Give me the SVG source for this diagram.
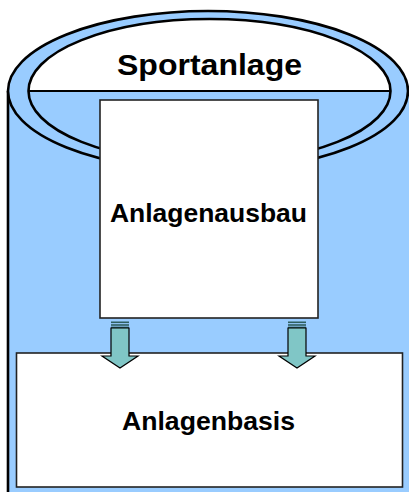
<svg xmlns="http://www.w3.org/2000/svg" width="409" height="492" viewBox="0 0 409 492">
<style>
.lbl{font-family:"Liberation Sans",Arial,sans-serif;font-weight:bold;fill:#000;text-anchor:middle}
.box{fill:#fff;stroke:#222;stroke-width:1.6}
.arr{fill:#80C6C6;stroke:#000;stroke-width:1.2;stroke-linejoin:miter}
.stripe{fill:#2F5F5F}
</style>
<rect x="0" y="0" width="409" height="492" fill="#fff"/>
<g id="sportanlage">
<rect x="8" y="91" width="420" height="410" fill="#99CCFF"/>
<line x1="8" y1="91" x2="8" y2="492" stroke="#000" stroke-width="2.6"/>
<ellipse cx="208" cy="91" rx="200" ry="80" fill="#99CCFF" stroke="#000" stroke-width="2.6"/>
<path d="M28.5 91 A181 72 0 0 1 390.5 91 Z" fill="#fff"/>
<ellipse cx="209.5" cy="91" rx="181" ry="72" fill="none" stroke="#000" stroke-width="2.6"/>
<line x1="28.5" y1="91" x2="390.5" y2="91" stroke="#000" stroke-width="2.2"/>
<text class="lbl" x="209.5" y="75" font-size="30" textLength="185" lengthAdjust="spacingAndGlyphs">Sportanlage</text>
</g>
<g id="anlagenausbau">
<rect class="box" x="100" y="100" width="218" height="218"/>
<text class="lbl" x="208.5" y="222" font-size="25" textLength="197" lengthAdjust="spacingAndGlyphs">Anlagenausbau</text>
</g>
<g id="anlagenbasis">
<rect class="box" x="16.5" y="353" width="386" height="134"/>
<text class="lbl" x="208.5" y="430" font-size="25" textLength="173" lengthAdjust="spacingAndGlyphs">Anlagenbasis</text>
</g>
<g id="connectors">
<g>
<rect class="stripe" x="111" y="321.5" width="18" height="1.6"/>
<rect class="stripe" x="111" y="324.2" width="18" height="1.6"/>
<rect class="stripe" x="111" y="326.6" width="18" height="1.4"/>
<polygon class="arr" points="111,328 129,328 129,356 138,356 120,368 102,356 111,356"/>
</g>
<g>
<rect class="stripe" x="288" y="321.5" width="18" height="1.6"/>
<rect class="stripe" x="288" y="324.2" width="18" height="1.6"/>
<rect class="stripe" x="288" y="326.6" width="18" height="1.4"/>
<polygon class="arr" points="288,328 306,328 306,356 315,356 297,368 279,356 288,356"/>
</g>
</g>
</svg>
